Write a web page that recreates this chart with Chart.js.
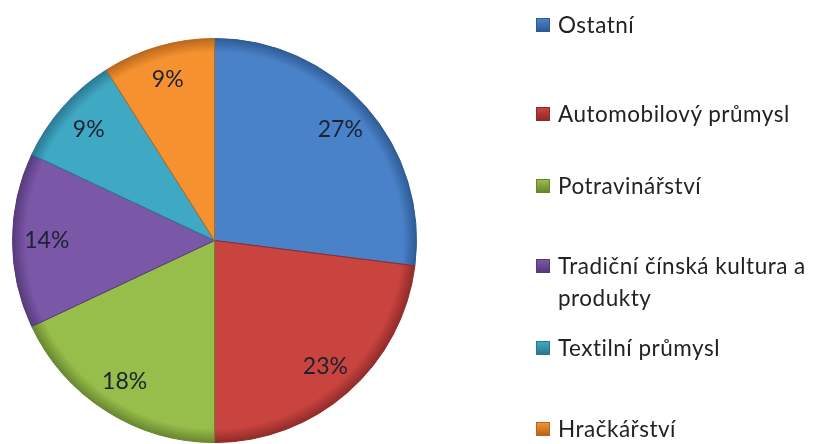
<!DOCTYPE html>
<html>
<head>
<meta charset="utf-8">
<script src="https://cdn.jsdelivr.net/npm/chart.js@4.4.1/dist/chart.umd.min.js"></script>
<style>
  html, body { margin: 0; padding: 0; background: #fff; }
  #wrap { position: relative; width: 823px; height: 444px; overflow: hidden; }
  #chart { position: absolute; left: 0; top: 0; }
  .leg { position: absolute; left: 536px; font-family: Lato, "Open Sans", sans-serif; font-size: 22.5px; letter-spacing: 0.5px; color: #222; line-height: 32px; }
  .leg .sw { position: absolute; left: 0; width: 14px; height: 14px; box-sizing: border-box; }
  .leg .tx { position: absolute; left: 22px; white-space: nowrap; }
</style>
</head>
<body>
<div id="wrap">
  <canvas id="chart" width="823" height="444"></canvas>
</div>
<script>
const labels = ["Ostatní", "Automobilový průmysl", "Potravinářství", "Tradiční čínská kultura a\nprodukty", "Textilní průmysl", "Hračkářství"];
const values = [27, 23, 18, 14, 9, 9];
const colors = ["#4a82c9", "#c9433f", "#97bd4a", "#7b57a8", "#3fa9c4", "#f5922f"];
const edges  = ["#2e5a94", "#8e2a28", "#67852f", "#553a7a", "#2a7790", "#b8661c"];
// vertical centre of each legend entry (first line)
const legendY = [25, 114, 186, 266, 348, 429];

// percentage labels inside the slices
const pctLabels = {
  id: "pctLabels",
  afterDatasetsDraw(chart) {
    const ctx = chart.ctx;
    const meta = chart.getDatasetMeta(0);
    ctx.save();
    ctx.font = "23px Lato, 'Open Sans', sans-serif";
    ctx.fillStyle = "#1c2233";
    ctx.textAlign = "center";
    ctx.textBaseline = "middle";
    meta.data.forEach((arc, i) => {
      const p = arc.getProps(["x", "y", "startAngle", "endAngle", "outerRadius"], true);
      const mid = (p.startAngle + p.endAngle) / 2;
      const r = p.outerRadius * 0.83;
      ctx.fillText(values[i] + "%", p.x + Math.cos(mid) * r, p.y + Math.sin(mid) * r);
    });
    ctx.restore();
  }
};

// soft darker rim like the bevelled office pie
function sliceFill(c) {
  const chart = c.chart;
  const area = chart.chartArea;
  if (!area) return colors[c.dataIndex];
  const cx = (area.left + area.right) / 2, cy = (area.top + area.bottom) / 2;
  const r = Math.min(area.right - area.left, area.bottom - area.top) / 2;
  const g = chart.ctx.createRadialGradient(cx, cy, 0, cx, cy, r);
  g.addColorStop(0, colors[c.dataIndex]);
  g.addColorStop(0.93, colors[c.dataIndex]);
  g.addColorStop(1, edges[c.dataIndex]);
  return g;
}

new Chart(document.getElementById("chart"), {
  type: "pie",
  data: {
    labels,
    datasets: [{
      data: values,
      backgroundColor: sliceFill,
      borderColor: edges,
      borderWidth: 1
    }]
  },
  options: {
    responsive: false,
    animation: false,
    layout: { padding: { left: 12, top: 38, right: 406, bottom: 1 } },
    plugins: { legend: { display: false }, tooltip: { enabled: false } }
  },
  plugins: [pctLabels]
});

// legend on the right
const wrap = document.getElementById("wrap");
labels.forEach((lab, i) => {
  const row = document.createElement("div");
  row.className = "leg";
  row.style.top = (legendY[i] - 16) + "px";
  const sw = document.createElement("div");
  sw.className = "sw";
  sw.style.top = "9px";
  sw.style.background = `linear-gradient(to bottom, ${colors[i]}, ${edges[i]})`;
  sw.style.border = `1px solid ${edges[i]}`;
  const tx = document.createElement("div");
  tx.className = "tx";
  tx.innerHTML = lab.split("\n").join("<br>");
  row.appendChild(sw);
  row.appendChild(tx);
  wrap.appendChild(row);
});
</script>
</body>
</html>
